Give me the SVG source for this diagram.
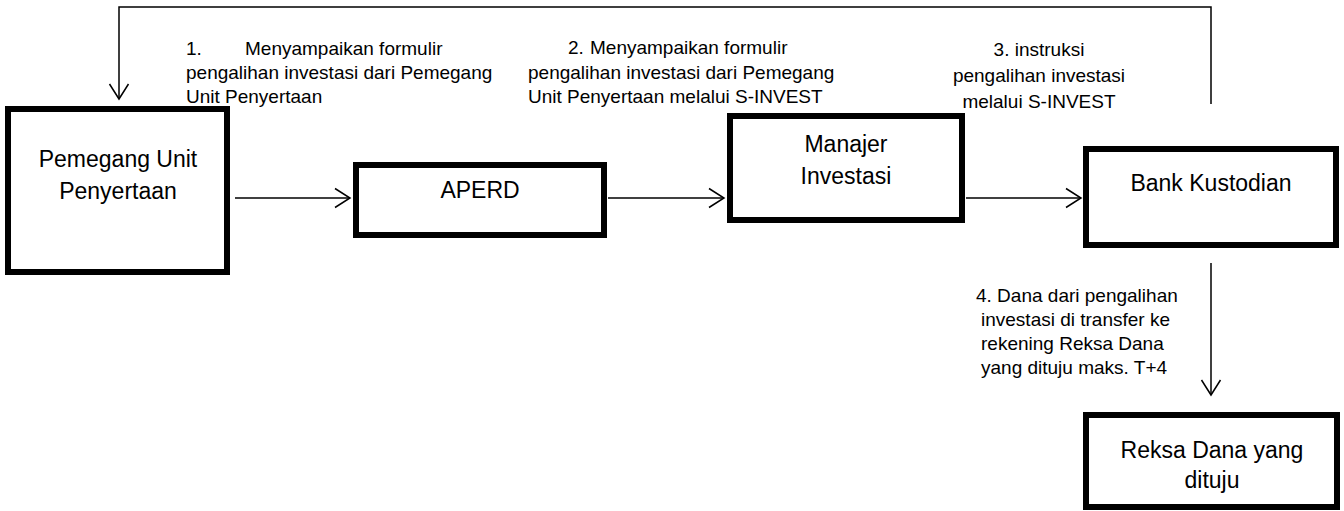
<svg xmlns="http://www.w3.org/2000/svg" width="1344" height="511" viewBox="0 0 1344 511">
<style>
.box{fill:#fff;stroke:#000;stroke-width:6}
.node{font-family:"Liberation Sans",Arial,sans-serif;font-size:23px;fill:#000;text-anchor:middle}
.lbl{font-family:"Liberation Sans",Arial,sans-serif;font-size:19px;fill:#000}
.c{text-anchor:middle}
.conn{fill:none;stroke:#000;stroke-width:1.5;marker-end:url(#arr)}
</style>
<defs>
<marker id="arr" markerUnits="userSpaceOnUse" markerWidth="22" markerHeight="24" refX="17" refY="11" orient="auto">
<path d="M2,1.5 L17,11 L2,20.5" fill="none" stroke="#000" stroke-width="1.5"/>
</marker>
</defs>
<rect width="1344" height="511" fill="#fff"/>
<g id="connectors">
<path class="conn" d="M1211,104 V7 H119 V99"/>
<path class="conn" d="M235,198 H350"/>
<path class="conn" d="M608,198 H724"/>
<path class="conn" d="M966,198 H1081"/>
<path class="conn" d="M1211,263 V395"/>
</g>
<g id="node-pemegang">
<rect class="box" x="8" y="109" width="219" height="163"/>
<text class="node" x="118" y="167">Pemegang Unit</text>
<text class="node" x="118" y="199">Penyertaan</text>
</g>
<g id="node-aperd">
<rect class="box" x="356" y="165" width="248" height="70"/>
<text class="node" x="480" y="198">APERD</text>
</g>
<g id="node-manajer">
<rect class="box" x="730" y="116" width="232" height="104"/>
<text class="node" x="846" y="152">Manajer</text>
<text class="node" x="846" y="184">Investasi</text>
</g>
<g id="node-bank">
<rect class="box" x="1086" y="149" width="250" height="96"/>
<text class="node" x="1211" y="191">Bank Kustodian</text>
</g>
<g id="node-reksa">
<rect class="box" x="1086" y="415" width="251" height="92"/>
<text class="node" x="1212" y="458">Reksa Dana yang</text>
<text class="node" x="1212" y="488">dituju</text>
</g>
<g id="labels">
<text class="lbl" y="55"><tspan x="186">1.</tspan><tspan x="245">Menyampaikan formulir</tspan></text>
<text class="lbl" x="186" y="79">pengalihan investasi dari Pemegang</text>
<text class="lbl" x="186" y="103">Unit Penyertaan</text>
<text class="lbl" y="54"><tspan x="568">2.</tspan><tspan x="590">Menyampaikan formulir</tspan></text>
<text class="lbl" x="528" y="79">pengalihan investasi dari Pemegang</text>
<text class="lbl" x="528" y="103">Unit Penyertaan melalui S-INVEST</text>
<text class="lbl c" x="1039" y="56">3. instruksi</text>
<text class="lbl c" x="1039" y="82">pengalihan investasi</text>
<text class="lbl c" x="1039" y="108">melalui S-INVEST</text>
<text class="lbl" x="976" y="302">4. Dana dari pengalihan</text>
<text class="lbl" x="981" y="326">investasi di transfer ke</text>
<text class="lbl" x="981" y="350">rekening Reksa Dana</text>
<text class="lbl" x="981" y="374">yang dituju maks. T+4</text>
</g>
</svg>
